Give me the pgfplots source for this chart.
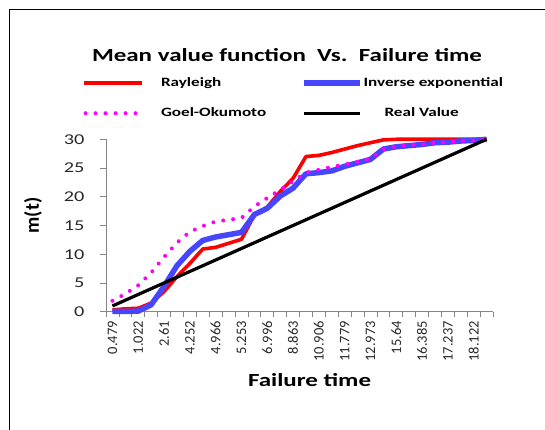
\documentclass[border=0pt]{standalone}
\usepackage{pgfplots}
\usepackage{pgfplotstable}
\pgfplotsset{compat=1.18}
\usepackage{fontspec}
\setmainfont{Carlito}[FakeStretch=1.35]
\newfontfamily\rotfont{Carlito}
\definecolor{rayred}{RGB}{255,0,0}
\definecolor{invblue}{RGB}{70,70,255}
\definecolor{goelmag}{RGB}{255,0,255}
\definecolor{axgray}{RGB}{134,134,134}
\definecolor{ticktext}{RGB}{40,40,40}
\pgfplotsset{
  leglongA/.style={legend image code/.code={\draw[##1] (0pt,0pt) -- (58pt,0pt); \path (75pt,0pt);}},
  legshortB/.style={legend image code/.code={\draw[##1] (0pt,0pt) -- (56pt,0pt); \path (57pt,0pt);}},
  legdotA/.style={legend image code/.code={\draw[##1] (1.5pt,0pt) -- (54pt,0pt); \path (0pt,0pt) (75pt,0pt);}},
}
\pgfplotstableread{
i  ray   inv   goel  real
0  0.3   0.05  1.9   1
1  0.5   0.05  3.1   2
2  0.6   0.1   4.6   3
3  1.5   1.2   6.8   4
4  3.5   4.4   9.5   5
5  6.1   8.0   12.0  6
6  8.4   10.5  13.9  7
7  10.9  12.4  14.9  8
8  11.2  13.0  15.7  9
9  11.9  13.4  16.0  10
10 12.6  13.8  16.3  11
11 16.8  16.9  18.3  12
12 18.2  18.0  19.8  13
13 20.9  20.1  21.2  14
14 23.2  21.5  22.7  15
15 27.0  24.0  24.2  16
16 27.2  24.2  24.7  17
17 27.7  24.5  25.2  18
18 28.3  25.3  25.6  19
19 28.9  25.9  26.1  20
20 29.4  26.5  26.6  21
21 29.9  28.3  28.3  22
22 30.0  28.7  28.8  23
23 30.0  28.9  29.0  24
24 30.0  29.1  29.1  25
25 30.0  29.4  29.4  26
26 30.0  29.5  29.5  27
27 30.0  29.7  29.7  28
28 30.0  29.8  29.8  29
29 30.0  30.0  30.0  30
}\datatable
\begin{document}
\begin{tikzpicture}
\path[use as bounding box] (0pt,0pt) rectangle (545pt,430pt);
\draw[line width=1pt] (9pt,-2pt) -- (9pt,420pt) -- (547pt,420pt);
\begin{axis}[
  at={(106pt,118.3pt)}, anchor=south west,
  scale only axis, width=387pt, height=172.4pt,
  xmin=-0.5, xmax=29.5, ymin=0, ymax=30,
  clip=false,
  axis x line=bottom, axis y line=left,
  axis line style={-, draw=axgray, line width=0.8pt},
  tick align=outside,
  major tick length=6pt,
  minor tick length=5pt,
  tick style={draw=axgray, line width=0.8pt},
  xtick={0,2,...,28},
  minor xtick={-0.5,0.5,...,29.5},
  major x tick style={draw=none},
  xticklabels={0.479,1.022,2.61,4.252,4.966,5.253,6.996,8.863,10.906,11.779,12.973,15.64,16.385,17.237,18.122},
  xticklabel style={font=\rotfont\fontsize{14.5}{15}\selectfont, text=ticktext, rotate=90, anchor=east},
  ytick={0,5,...,30},
  yticklabel style={font=\fontsize{15}{16}\selectfont, text=ticktext, xshift=-12pt},
  /pgf/number format/assume math mode=true,
  xlabel={Failure time},
  xlabel style={font=\bfseries\fontsize{18.5}{20}\selectfont, at={(axis description cs:0.526,-0.395)}, anchor=center},
  ylabel={m(t)},
  ylabel style={font=\rotfont\bfseries\fontsize{20}{22}\selectfont, at={(axis description cs:-0.189,0.558)}, anchor=center, rotate=0},
  legend columns=2,
  legend cell align=left,
  legend style={at={(axis description cs:-0.0620,1.360)}, anchor=north west, draw=none, fill=none, inner sep=0pt, outer sep=0pt, column sep=0pt, row sep=18pt,
    nodes={inner sep=0pt, font=\bfseries\fontsize{12.7}{13}\selectfont, text height=9pt, text depth=3pt}},
]
\addplot[rayred, line width=3.6pt, line join=round, leglongA]
  table[x=i, y=ray] {\datatable};
\addlegendentry{\makebox[140pt][l]{Rayleigh}}
\addplot[invblue, line width=5.5pt, line join=round, legshortB]
  table[x=i, y=inv] {\datatable};
\addlegendentry{Inverse exponential}
\addplot[goelmag, line width=4pt, line cap=round, dash pattern=on 0pt off 10pt, legdotA]
  table[x=i, y=goel] {\datatable};
\addlegendentry{\makebox[140pt][l]{Goel-Okumoto}}
\addplot[black, line width=3.2pt, line join=round, legshortB]
  table[x=i, y=real] {\datatable};
\addlegendentry{\hspace*{21pt}Real Value}
\end{axis}
\node[font=\bfseries\fontsize{18.5}{20}\selectfont] at (287pt,375pt) {Mean value function\ \ Vs.\ \ Failure time};
\end{tikzpicture}
\end{document}
